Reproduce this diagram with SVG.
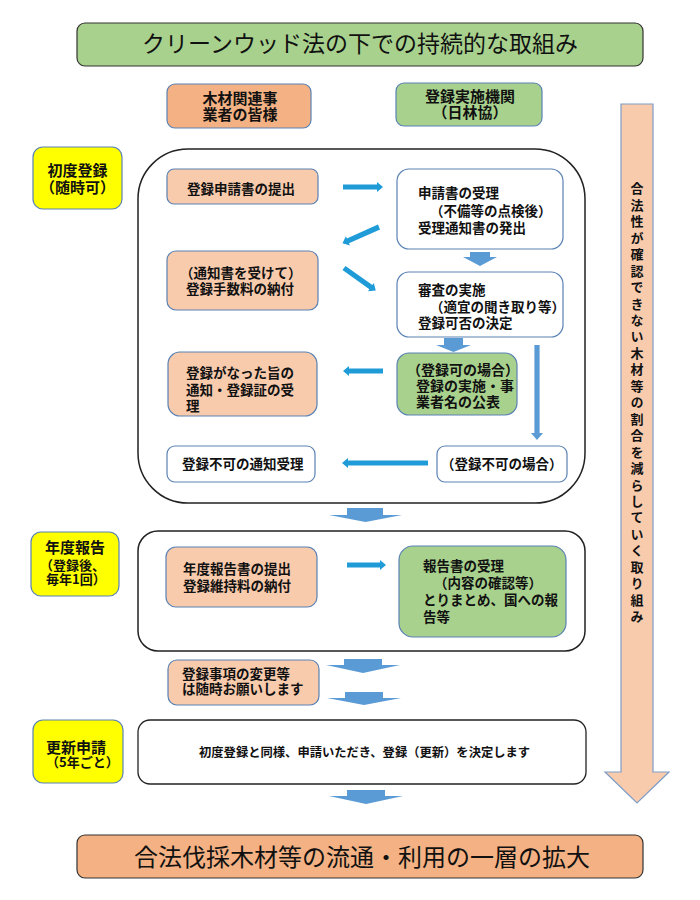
<svg xmlns="http://www.w3.org/2000/svg" width="700" height="900" viewBox="0 0 700 900">
<defs>
<style>
text{font-family:"Noto Sans CJK JP","Noto Sans CJK SC",sans-serif;fill:#111;}
.b{font-weight:bold;font-size:13.5px;}
.y{font-weight:bold;font-size:15px;}
.big{font-size:23px;font-weight:normal;}
.hd{font-weight:bold;font-size:15px;}
.box{stroke:#5A82B4;stroke-width:1.2;}
.og{fill:#F8CBAD;}
.gr{fill:#A9D18E;}
.wh{fill:#FFFFFF;}
.ye{fill:#FFFF00;}
.frame{fill:none;stroke:#222;stroke-width:1.5;}
.thin{fill:#1F9CD8;}
.blk{fill:#5B9BD5;}
</style>
</defs>
<rect width="700" height="900" fill="#fff"/>

<g id="title">
<rect x="77" y="23" width="566" height="43" rx="8" fill="#A9D18E" stroke="#333" stroke-width="1.2"/>
<text x="360" y="51.5" text-anchor="middle" class="big">クリーンウッド法の下での持続的な取組み</text>
</g>

<g id="hdr-business">
<rect x="167" y="84" width="144" height="44" rx="8" fill="#F4B183" class="box"/>
<text x="240" y="103.5" text-anchor="middle" class="hd">木材関連事</text>
<text x="240" y="120" text-anchor="middle" class="hd">業者の皆様</text>
</g>

<g id="hdr-agency">
<rect x="396" y="83" width="146" height="43" rx="8" class="gr box"/>
<text x="470" y="101.5" text-anchor="middle" class="hd">登録実施機関</text>
<text x="470" y="118" text-anchor="middle" class="hd">（日林協）</text>
</g>

<g id="side-arrow">
<polygon points="621,104 653,104 653,772 669,772 637,803 605,772 621,772" fill="#F8CBAD" stroke="#7F9DC6" stroke-width="1.2"/>
<text x="637" y="182" class="b" style="font-size:13px;writing-mode:vertical-rl;letter-spacing:3.45px">合法性が確認できない木材等の割合を減らしていく取り組み</text>
</g>

<g id="frame-initial"><rect x="138" y="149" width="447" height="354" rx="50" class="frame"/></g>
<g id="frame-annual"><rect x="138" y="531" width="447" height="120" rx="20" class="frame"/></g>

<g id="lbl-initial">
<rect x="33" y="147" width="89" height="62" rx="10" class="ye box"/>
<text x="77.5" y="176" text-anchor="middle" class="y">初度登録</text>
<text x="77.5" y="193" text-anchor="middle" class="y">（随時可）</text>
</g>

<g id="n-submit">
<rect x="167" y="169" width="151" height="35" rx="7" class="og box"/>
<text x="187" y="194.3" class="b">登録申請書の提出</text>
</g>

<g id="n-accept">
<rect x="397" y="169" width="166" height="80" rx="12" class="wh box"/>
<text x="418" y="197.7" class="b">申請書の受理</text>
<text x="430" y="215.5" class="b">（不備等の点検後）</text>
<text x="418" y="232.5" class="b">受理通知書の発出</text>
</g>

<g id="n-fee">
<rect x="167" y="251" width="151" height="59" rx="9" class="og box"/>
<text x="180" y="278.3" class="b">（通知書を受けて）</text>
<text x="186" y="294.3" class="b">登録手数料の納付</text>
</g>

<g id="n-review">
<rect x="397" y="272" width="166" height="65" rx="12" class="wh box"/>
<text x="418" y="294.7" class="b">審査の実施</text>
<text x="430" y="311.7" class="b">（適宜の聞き取り等）</text>
<text x="418" y="327.7" class="b">登録可否の決定</text>
</g>

<g id="n-approved">
<rect x="397" y="353" width="120" height="62" rx="12" class="gr box"/>
<text x="407" y="375" class="b" style="font-size:14px">（登録可の場合）</text>
<text x="416" y="391" class="b" style="font-size:14px">登録の実施・事</text>
<text x="416" y="407" class="b" style="font-size:14px">業者名の公表</text>
</g>

<g id="n-cert">
<rect x="168" y="352" width="149" height="64" rx="12" class="og box"/>
<text x="186" y="378" class="b">登録がなった旨の</text>
<text x="186" y="395" class="b">通知・登録証の受</text>
<text x="186" y="411" class="b">理</text>
</g>

<g id="n-rejected">
<rect x="437" y="446" width="130" height="36" rx="8" class="wh box"/>
<text x="441" y="469" class="b">（登録不可の場合）</text>
</g>

<g id="n-reject-notice">
<rect x="167" y="446" width="148" height="36" rx="8" class="wh box"/>
<text x="182" y="468.5" class="b">登録不可の通知受理</text>
</g>

<g id="lbl-annual">
<rect x="31" y="532" width="88" height="64" rx="10" class="ye box"/>
<text x="75" y="553" text-anchor="middle" class="y">年度報告</text>
<text x="40" y="569.5" class="b" style="font-size:13px">（登録後、</text>
<text x="46" y="584" class="b" style="font-size:13px">毎年1回）</text>
</g>

<g id="n-report">
<rect x="166" y="547" width="151" height="60" rx="10" class="og box"/>
<text x="183" y="574.3" class="b">年度報告書の提出</text>
<text x="183" y="591" class="b">登録維持料の納付</text>
</g>

<g id="n-report-accept">
<rect x="399" y="546" width="167" height="91" rx="14" class="gr box"/>
<text x="423" y="571" class="b">報告書の受理</text>
<text x="434" y="587.7" class="b">（内容の確認等）</text>
<text x="423" y="605" class="b">とりまとめ、国への報</text>
<text x="423" y="621.7" class="b">告等</text>
</g>

<g id="n-change">
<rect x="168" y="660" width="151" height="45" rx="9" class="og box"/>
<text x="182" y="679" class="b">登録事項の変更等</text>
<text x="182" y="694" class="b">は随時お願いします</text>
</g>

<g id="lbl-renew">
<rect x="33" y="720" width="90" height="63" rx="10" class="ye box"/>
<text x="76" y="752.5" text-anchor="middle" class="y">更新申請</text>
<text x="46" y="767" class="b" style="font-size:13px">（5年ごと）</text>
</g>

<g id="n-renew">
<rect x="138" y="720" width="448" height="64" rx="12" fill="#fff" stroke="#222" stroke-width="1.3"/>
<text x="199" y="756.5" class="b" style="font-size:12.3px">初度登録と同様、申請いただき、登録（更新）を決定します</text>
</g>

<g id="goal">
<rect x="77" y="835" width="566" height="43" rx="8" fill="#F4B183" stroke="#333" stroke-width="1.2"/>
<text x="362" y="866" text-anchor="middle" class="big" style="font-size:24px">合法伐採木材等の流通・利用の一層の拡大</text>
</g>

<g id="connectors">
<path class="thin" d="M0,-2.6 H34 V-5 L40,0 L34,5 V2.6 H0 Z" transform="translate(343,187)"/>
<path class="thin" d="M0,-2.6 H34 V-5 L40,0 L34,5 V2.6 H0 Z" transform="translate(379,227) rotate(156)"/>
<path class="thin" d="M0,-2.6 H33 V-5 L39,0 L33,5 V2.6 H0 Z" transform="translate(344,268) rotate(35.4)"/>
<path class="thin" d="M0,-2.6 H34 V-5 L40,0 L34,5 V2.6 H0 Z" transform="translate(383,371) rotate(180)"/>
<path class="thin" d="M0,-2.6 H80 V-5 L86,0 L80,5 V2.6 H0 Z" transform="translate(428,463) rotate(180)"/>
<path class="thin" d="M0,-2.6 H33 V-5 L39,0 L33,5 V2.6 H0 Z" transform="translate(347,565)"/>
<path class="blk" d="M0,-2.6 H88 V-6 L95,0 L88,6 V2.6 H0 Z" transform="translate(537,345) rotate(90)"/>
<polygon class="blk" points="470,252 490,252 490,257 497,257 480,266 463,257 470,257"/>
<polygon class="blk" points="444,338 463,338 463,345 471,345 453.5,352 436,345 444,345"/>
<polygon class="blk" points="347,508 383,508 383,515 402,515 365.5,522 329,515 347,515"/>
<polygon class="blk" points="344,659 382,659 382,665 400,665 363,673 326,665 344,665"/>
<polygon class="blk" points="345,692 383,692 383,698 401,698 364,705 327,698 345,698"/>
<polygon class="blk" points="347,790 385,790 385,796 403,796 366,804 329,796 347,796"/>
</g>
</svg>
